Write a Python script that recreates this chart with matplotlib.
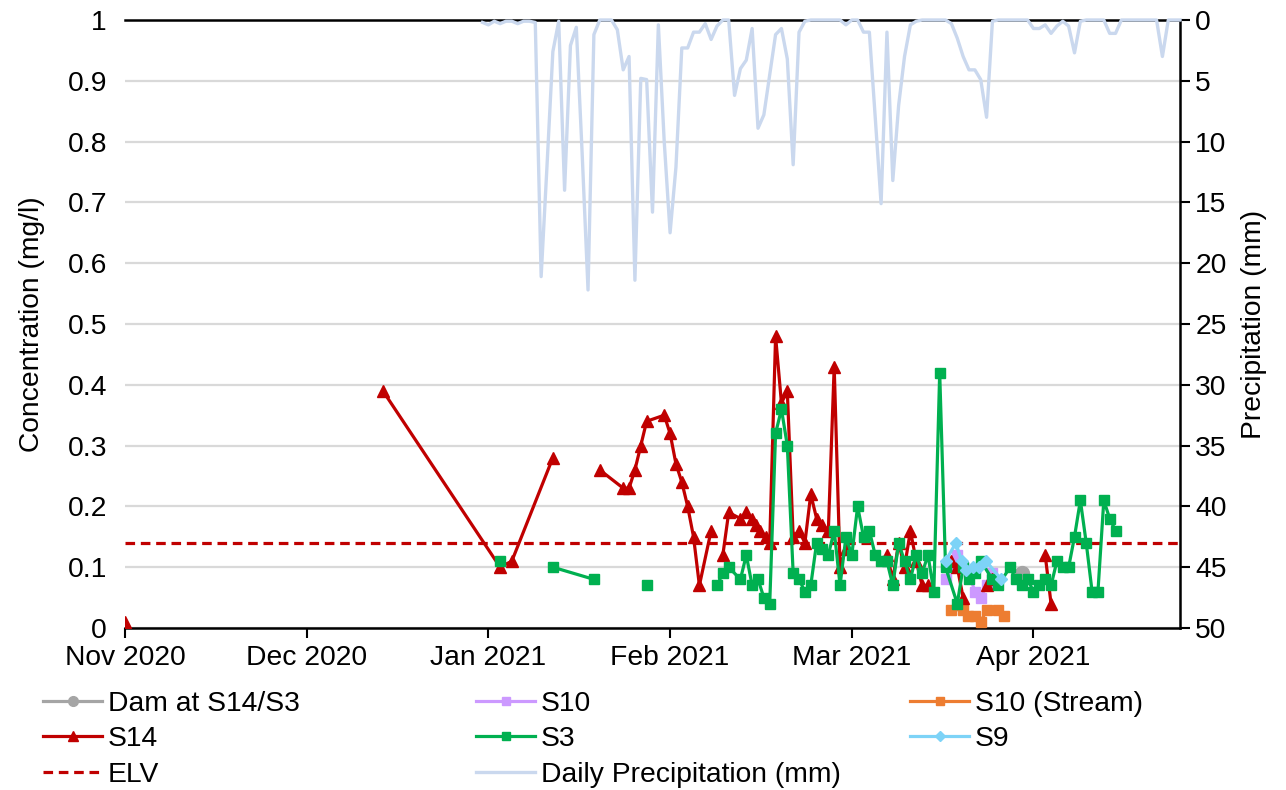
import numpy as np
import pandas as pd
import matplotlib
matplotlib.use('Agg')
import matplotlib.pyplot as plt
import matplotlib.dates as mdates
from matplotlib.lines import Line2D

plt.rcParams['font.family'] = ['Liberation Sans', 'DejaVu Sans']

# ---- data ----
nan = np.nan

s14_dates = ['2020-11-01', '2020-11-20', '2020-12-15', '2021-01-04', '2021-01-06', '2021-01-13', '2021-01-17',
             '2021-01-21', '2021-01-25', '2021-01-26', '2021-01-27', '2021-01-28', '2021-01-29',
             '2021-02-01', '2021-02-02', '2021-02-03', '2021-02-04', '2021-02-05', '2021-02-06',
             '2021-02-07', '2021-02-09', '2021-02-10', '2021-02-11', '2021-02-12', '2021-02-14',
             '2021-02-15', '2021-02-16', '2021-02-16 15:00', '2021-02-17 10:00', '2021-02-18 08:00',
             '2021-02-19', '2021-02-20', '2021-02-21', '2021-02-22', '2021-02-23', '2021-02-24',
             '2021-02-25', '2021-02-26', '2021-02-27', '2021-02-28', '2021-03-01', '2021-03-02',
             '2021-03-03', '2021-03-04', '2021-03-07',
             '2021-03-11', '2021-03-12', '2021-03-13', '2021-03-14', '2021-03-15', '2021-03-16',
             '2021-03-17', '2021-03-18', '2021-03-20',
             '2021-03-22', '2021-03-23', '2021-03-24', '2021-03-26',
             '2021-03-28', '2021-03-29', '2021-04-03',
             '2021-04-07', '2021-04-08']
s14_conc = [0.01, nan, 0.39, 0.10, 0.11, 0.28, nan,
            0.26, 0.23, 0.23, 0.26, 0.30, 0.34,
            0.35, 0.32, 0.27, 0.24, 0.20, 0.15,
            0.07, 0.16, nan, 0.12, 0.19, 0.18,
            0.19, 0.18, 0.17, 0.16, 0.15,
            0.14, 0.48, 0.37, 0.39, 0.15, 0.16,
            0.14, 0.22, 0.18, 0.17, 0.16, 0.43,
            0.10, 0.13, nan,
            0.12, 0.08, 0.14, 0.10, 0.16, 0.11,
            0.07, 0.07, nan,
            0.11, 0.10, 0.05, nan,
            0.07, 0.08, nan,
            0.12, 0.04]

s3_dates = ['2021-01-04', '2021-01-08', '2021-01-13', '2021-01-20', '2021-01-24', '2021-01-29',
            '2021-02-05', '2021-02-10', '2021-02-11', '2021-02-12', '2021-02-14', '2021-02-15',
            '2021-02-16', '2021-02-17', '2021-02-18', '2021-02-19', '2021-02-20', '2021-02-21',
            '2021-02-22', '2021-02-23', '2021-02-24', '2021-02-25', '2021-02-26', '2021-02-27',
            '2021-02-28', '2021-03-01', '2021-03-02', '2021-03-03', '2021-03-04', '2021-03-05',
            '2021-03-06', '2021-03-07', '2021-03-08', '2021-03-09', '2021-03-10', '2021-03-11',
            '2021-03-12', '2021-03-13', '2021-03-14', '2021-03-15', '2021-03-16', '2021-03-17',
            '2021-03-18', '2021-03-19', '2021-03-20', '2021-03-21', '2021-03-23', '2021-03-24',
            '2021-03-25', '2021-03-26', '2021-03-27', '2021-03-29', '2021-03-30', '2021-04-01',
            '2021-04-02', '2021-04-03', '2021-04-04', '2021-04-05', '2021-04-06', '2021-04-07',
            '2021-04-08', '2021-04-09', '2021-04-10', '2021-04-11', '2021-04-12', '2021-04-13',
            '2021-04-14', '2021-04-15', '2021-04-16', '2021-04-17', '2021-04-18', '2021-04-19']
s3_conc = [0.11, nan, 0.10, 0.08, nan, 0.07,
           nan, 0.07, 0.09, 0.10, 0.08, 0.12,
           0.07, 0.08, 0.05, 0.04, 0.32, 0.36,
           0.30, 0.09, 0.08, 0.06, 0.07, 0.14,
           0.13, 0.12, 0.16, 0.07, 0.15, 0.12,
           0.20, 0.15, 0.16, 0.12, 0.11, 0.11,
           0.07, 0.14, 0.11, 0.08, 0.12, 0.09,
           0.12, 0.06, 0.42, 0.10, 0.04, 0.10,
           0.08, 0.09, 0.11, 0.08, 0.07, 0.10,
           0.08, 0.07, 0.08, 0.06, 0.07, 0.08,
           0.07, 0.11, 0.10, 0.10, 0.15, 0.21,
           0.14, 0.06, 0.06, 0.21, 0.18, 0.16]

s10_dates = ['2021-03-21', '2021-03-22', '2021-03-23', '2021-03-24', '2021-03-25', '2021-03-26',
             '2021-03-27', '2021-03-28', '2021-03-29']
s10_conc = [0.08, 0.10, 0.12, 0.10, 0.09, 0.06, 0.05, 0.07, 0.09]

s10_stream_dates = ['2021-03-22', '2021-03-24', '2021-03-24 18:00', '2021-03-26', '2021-03-27',
                    '2021-03-28', '2021-03-30', '2021-03-31']
s10_stream_conc = [0.03, 0.03, 0.02, 0.02, 0.01, 0.03, 0.03, 0.02]

s9_dates = ['2021-03-21', '2021-03-22 18:00', '2021-03-23 18:00', '2021-03-24 12:00',
            '2021-03-25 18:00', '2021-03-26 18:00', '2021-03-27 22:00', '2021-03-30 12:00']
s9_conc = [0.11, 0.14, 0.11, 0.095, 0.10, 0.10, 0.11, 0.08]

dam_dates = ['2021-04-03']
dam_conc = [0.09]

elv = 0.14

precip_start = '2021-01-01'
precip_mm = [0.2, 0.4, 0.1, 0.3, 0.1, 0.1, 0.3, 0.1, 0.1, 0.2,
             21.1, 12.0, 2.6, 0.1, 14.0, 2.1, 0.6, 11.0, 22.2, 1.2,
             0.0, 0.0, 0.0, 0.8, 4.1, 3.0, 21.4, 4.8, 4.9, 15.8,
             0.4, 10.0, 17.5, 12.1, 2.3, 2.3, 1.0, 1.0, 0.3, 1.6,
             0.5, 0.0, 0.0, 6.2, 4.0, 3.3, 0.7, 8.9, 7.8, 4.5,
             1.2, 0.7, 3.2, 11.9, 1.0, 0.1, 0.0, 0.0, 0.0, 0.0,
             0.0, 0.0, 0.4, 0.0, 0.0, 1.0, 1.0, 8.0, 15.1, 1.0,
             13.2, 7.0, 3.0, 0.4, 0.1, 0.0, 0.0, 0.0, 0.0, 0.0,
             0.3, 1.5, 3.0, 4.1, 4.1, 4.9, 8.0, 0.1, 0.0, 0.0,
             0.0, 0.0, 0.0, 0.0, 0.7, 0.7, 0.4, 1.1, 0.5, 0.1,
             0.5, 2.7, 0.1, 0.0, 0.0, 0.0, 0.0, 1.1, 1.1, 0.0,
             0.0, 0.0, 0.0, 0.0, 0.0, 0.0, 3.0, 0.0, 0.0, 0.0]

x_start = '2020-11-01'
x_end = '2021-04-30'
tick_step_days = 31


def dt(values):
    return pd.to_datetime(values, format='mixed')


# ---- figure ----
W, H = 1286, 790
fig = plt.figure(figsize=(W / 100, H / 100), dpi=100)
ax = fig.add_axes([125 / W, 1 - 628 / H, (1180 - 125) / W, 608 / H])
ax2 = ax.twinx()

c_s14 = '#C00000'
c_s3 = '#00B050'
c_s10 = '#CC99FF'
c_s10s = '#ED7D31'
c_s9 = '#7DD3F7'
c_dam = '#A5A5A5'
c_rain = '#CAD8EE'

fs = 20.3
lw = 2.3
elv_ls = (0, (3.0, 1.8))
ax.plot(dt(dam_dates), dam_conc, color=c_dam, marker='o', ms=10, lw=lw, zorder=3)
ax.plot(dt(s10_dates), s10_conc, color=c_s10, marker='s', ms=7, lw=lw, zorder=3)
ax.plot(dt(s10_stream_dates), s10_stream_conc, color=c_s10s, marker='s', ms=7, lw=lw, zorder=3)
ax.plot(dt(s14_dates), s14_conc, color=c_s14, marker='^', ms=8.5, lw=lw, zorder=4)
ax.plot(dt(s3_dates), s3_conc, color=c_s3, marker='s', ms=7, lw=lw, zorder=5)
ax.plot(dt(s9_dates), s9_conc, color=c_s9, marker='D', ms=6, lw=lw, zorder=6)
ax.axhline(elv, color=c_s14, lw=2.3, ls=elv_ls, zorder=2.5)

rain_dates = pd.date_range(precip_start, periods=len(precip_mm), freq='D')
ax2.plot(rain_dates, precip_mm, color=c_rain, lw=2.4, zorder=3, clip_on=False)

# x axis
ax.set_xlim(pd.Timestamp(x_start), pd.Timestamp(x_end))
ax.set_xticks(pd.date_range(x_start, periods=6, freq=f'{tick_step_days}D'))
ax.xaxis.set_major_formatter(mdates.DateFormatter('%b %Y'))
ax.tick_params(axis='x', direction='out', length=7, width=1.5, color='black',
               labelsize=fs, pad=5)

# left y
ax.set_ylim(0, 1)
ax.set_yticks(np.arange(0, 1.01, 0.1))
ax.yaxis.set_major_formatter(plt.FuncFormatter(lambda v, p: f'{v:.1f}'.rstrip('0').rstrip('.') if v else '0'))
ax.tick_params(axis='y', length=0, labelsize=fs, pad=13)
ax.grid(axis='y', color='#D9D9D9', lw=1.6)
ax.set_axisbelow(True)
ax.set_ylabel('Concentration (mg/l)', fontsize=fs, labelpad=16)

# right y
ax2.set_ylim(50, 0)
ax2.set_yticks(np.arange(0, 51, 5))
ax2.tick_params(axis='y', direction='out', length=7, width=1.5, labelsize=fs, pad=4)
ax2.set_ylabel('Precipitation (mm)', fontsize=fs, labelpad=10)

ax.spines['left'].set_visible(False)
ax2.spines['left'].set_visible(False)
ax.spines['right'].set_visible(False)
ax.spines['top'].set_visible(False)
ax.spines['bottom'].set_linewidth(1.8)
ax2.spines['bottom'].set_visible(False)
ax2.spines['right'].set_linewidth(1.8)
ax2.spines['top'].set_linewidth(1.8)


# legend: three columns placed like the reference
def h(color, marker=None, ls='-', ms=7):
    return Line2D([], [], color=color, marker=marker, ls=ls, lw=lw, ms=ms)


cols = [
    ([h(c_dam, 'o', ms=7), h(c_s14, '^', ms=7), h(c_s14, None, elv_ls)],
     ['Dam at S14/S3', 'S14', 'ELV'], 43),
    ([h(c_s10, 's', ms=5.5), h(c_s3, 's', ms=5.5), Line2D([], [], color=c_rain, lw=2.4)],
     ['S10', 'S3', 'Daily Precipitation (mm)'], 476),
    ([h(c_s10s, 's', ms=5.5), h(c_s9, 'D', ms=5)],
     ['S10 (Stream)', 'S9'], 910),
]
for handles, labels, xpx in cols:
    fig.legend(handles, labels, loc='upper left', bbox_to_anchor=(xpx / W, 1 - 691 / H),
               frameon=False, fontsize=fs, borderpad=0, borderaxespad=0,
               handlelength=2.1, handletextpad=0.2, labelspacing=0.33)

fig.savefig('out.png', dpi=100, facecolor='white')
